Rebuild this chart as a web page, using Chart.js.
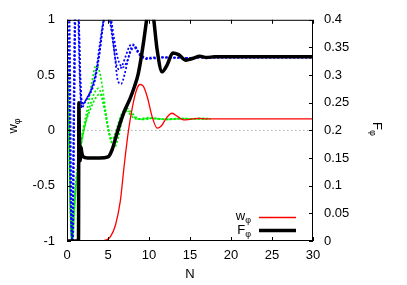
<!DOCTYPE html>
<html>
<head>
<meta charset="utf-8">
<script src="https://cdn.jsdelivr.net/npm/chart.js@4.4.1/dist/chart.umd.min.js"></script>
<style>html,body{margin:0;padding:0;background:#fff}</style>
</head>
<body>
<canvas id="c" width="407" height="285"></canvas>
<script>
// tick values
const xTicks = [0, 5, 10, 15, 20, 25, 30];
const wTicks = [-1, -0.5, 0, 0.5, 1];
const fTicks = [0, 0.05, 0.1, 0.15, 0.2, 0.25, 0.3, 0.35, 0.4];

// w_phi (red, left axis)
const nW = [0, 4, 4.8, 5.3, 5.9, 6.5, 7, 7.5, 8, 8.5, 8.9, 9.3, 9.8, 10.4, 11, 11.5, 12.2, 12.8, 13.5, 14.2, 15, 16, 17, 20, 30];
const wPhi = [-1, -1, -0.99, -0.96, -0.86, -0.64, -0.3, 0.0, 0.22, 0.37, 0.415, 0.4, 0.3, 0.12, 0.02, 0.04, 0.12, 0.155, 0.125, 0.095, 0.1, 0.108, 0.104, 0.105, 0.105];

// F_phi (black, right axis)
const nF = [0, 1.4, 1.45, 1.5, 1.6, 1.7, 1.8, 2.0, 2.5, 3, 4, 5, 5.5, 6, 6.5, 7, 7.7, 8.2, 8.7, 9.3, 9.8, 10.1, 10.5, 11, 11.6, 12.2, 12.9, 13.6, 14.5, 15.3, 16.2, 17, 18, 20, 25, 30];
const fPhi = [0, 0, 0.25, 0.2, 0.145, 0.17, 0.16, 0.152, 0.15, 0.15, 0.15, 0.152, 0.165, 0.19, 0.214, 0.235, 0.258, 0.278, 0.303, 0.356, 0.41, 0.44, 0.41, 0.345, 0.306, 0.318, 0.34, 0.337, 0.327, 0.33, 0.334, 0.332, 0.333, 0.333, 0.333, 0.333];

// blue dotted curves
const nB1 = [0, 0.15, 0.4, 0.6, 0.8, 0.95, 1.15, 1.35, 1.5, 1.65, 1.85, 2.0, 2.5, 3.0, 3.5, 4.0, 4.4, 4.8, 5.2, 5.6, 6.0, 6.4, 6.8, 7.2, 7.6, 8.0, 8.5, 9.0, 9.6, 10.4, 11.5, 13, 15, 20, 30];
const wB1 = [1.0, 1.1, -0.3, -1.0, 0.2, 1.1, 1.3, 1.1, 0.6, 0.3, 0.22, 0.24, 0.3, 0.38, 0.52, 0.78, 0.98, 1.08, 1.0, 0.8, 0.6, 0.55, 0.6, 0.68, 0.76, 0.78, 0.72, 0.67, 0.65, 0.66, 0.66, 0.655, 0.655, 0.655, 0.655];
const nB2 = [0, 0.3, 0.5, 0.65, 0.85, 1.0, 1.2, 1.4, 1.55, 1.75, 2.0, 2.5, 3.0, 3.5, 4.0, 4.5, 5.0, 5.4, 5.8, 6.2, 6.6, 7.0, 7.4, 7.8, 8.2, 8.7, 9.2, 9.8, 10.5, 12, 15];
const wB2 = [1.05, 1.0, -0.4, -1.0, 0.0, 1.05, 1.2, 1.15, 0.7, 0.3, 0.24, 0.3, 0.37, 0.5, 0.72, 1.0, 1.1, 0.95, 0.7, 0.45, 0.42, 0.5, 0.63, 0.74, 0.77, 0.71, 0.66, 0.645, 0.655, 0.66, 0.655];
const nB3 = [0, 0.2, 0.45, 0.7, 0.9, 1.05, 1.25, 1.45, 1.6, 1.8, 2.2, 2.8, 3.4, 3.9, 4.3, 4.7, 5.2, 5.7, 6.2, 6.8, 7.3, 7.8, 8.3, 8.8, 9.5, 10.5, 12, 15];
const wB3 = [0.95, 0.6, -0.7, -1.0, 0.3, 1.1, 1.2, 1.0, 0.5, 0.2, 0.26, 0.33, 0.45, 0.66, 0.9, 1.05, 1.05, 0.85, 0.65, 0.57, 0.62, 0.72, 0.75, 0.7, 0.66, 0.65, 0.66, 0.655];

// green dotted curves
const nG1 = [0, 0.2, 0.4, 0.6, 0.8, 1.1, 1.5, 2.0, 2.5, 3.0, 3.5, 3.9, 4.3, 4.7, 5.1, 5.5, 6.0, 6.5, 7.0, 7.5, 8.0, 8.6, 9.3, 10, 11, 12, 13, 14, 15, 16.5, 17.5];
const wG1 = [0.75, 0.1, -0.7, -1.0, -0.75, -0.45, -0.2, 0.02, 0.2, 0.42, 0.58, 0.55, 0.4, 0.18, 0.0, -0.08, 0.0, 0.12, 0.18, 0.16, 0.12, 0.1, 0.11, 0.115, 0.105, 0.1, 0.105, 0.108, 0.104, 0.11, 0.105];
const nG2 = [0, 0.25, 0.45, 0.65, 0.9, 1.3, 1.8, 2.3, 2.8, 3.3, 3.8, 4.3, 4.8, 5.2, 5.6, 6.1, 6.6, 7.1, 7.6, 8.2, 9, 10, 11, 12.5, 14, 16, 17.5];
const wG2 = [0.6, -0.1, -0.8, -1.0, -0.7, -0.35, -0.1, 0.08, 0.22, 0.33, 0.38, 0.3, 0.1, -0.05, -0.12, -0.05, 0.1, 0.19, 0.17, 0.12, 0.1, 0.11, 0.105, 0.1, 0.106, 0.105, 0.105];
const nG3 = [0, 0.3, 0.5, 0.7, 1.0, 1.4, 1.9, 2.4, 2.9, 3.4, 4.0, 4.5, 5.0, 5.4, 5.8, 6.3, 6.8, 7.3, 7.9, 8.6, 9.5, 10.5, 12, 14, 17];
const wG3 = [0.4, -0.3, -0.9, -1.0, -0.6, -0.3, -0.05, 0.1, 0.2, 0.28, 0.33, 0.22, 0.02, -0.1, -0.15, -0.05, 0.12, 0.2, 0.16, 0.11, 0.1, 0.11, 0.1, 0.105, 0.105];

// zero reference line
const nZero = [0, 30];
const wZero = [0, 0];

const FONT = '"Liberation Sans", Arial, sans-serif';

function pts(xs, ys) {
    return xs.map((x, i) => ({ x: x, y: ys[i] }));
}

function dotted(xs, ys, color) {
    return {
        data: pts(xs, ys),
        borderColor: color,
        borderWidth: 1.7,
        borderDash: [2, 2],
        yAxisID: 'y'
    };
}

// text with a subscript, drawn in the current (possibly rotated) frame
function subText(ctx, main, sub, x, y, align) {
    ctx.font = '13px ' + FONT;
    const mw = ctx.measureText(main).width;
    ctx.font = '9px ' + FONT;
    const sw = ctx.measureText(sub).width;
    let x0 = x;
    if (align === 'right') x0 = x - mw - sw;
    if (align === 'center') x0 = x - (mw + sw) / 2;
    ctx.textAlign = 'left';
    ctx.textBaseline = 'alphabetic';
    ctx.font = '13px ' + FONT;
    ctx.fillText(main, x0, y);
    ctx.font = '9px ' + FONT;
    ctx.fillText(sub, x0 + mw, y + 3);
}

const framePlugin = {
    id: 'frame',
    afterDraw(chart) {
        const { ctx, chartArea: a, scales } = chart;
        ctx.save();
        ctx.strokeStyle = '#000';
        ctx.lineWidth = 1;
        ctx.beginPath();
        xTicks.forEach(v => {
            const p = Math.round(scales.x.getPixelForValue(v)) + 0.5;
            ctx.moveTo(p, a.bottom); ctx.lineTo(p, a.bottom - 4);
            ctx.moveTo(p, a.top); ctx.lineTo(p, a.top + 4);
        });
        wTicks.forEach(v => {
            const p = Math.round(scales.y.getPixelForValue(v)) + 0.5;
            ctx.moveTo(a.left, p); ctx.lineTo(a.left + 4, p);
        });
        fTicks.forEach(v => {
            const p = Math.round(scales.y2.getPixelForValue(v)) + 0.5;
            ctx.moveTo(a.right, p); ctx.lineTo(a.right - 4, p);
        });
        ctx.stroke();
        ctx.strokeRect(a.left + 0.5, a.top + 0.5, a.right - a.left - 1, a.bottom - a.top - 1);

        ctx.fillStyle = '#000';
        // left axis title
        ctx.save();
        ctx.translate(17, 126);
        ctx.rotate(-Math.PI / 2);
        subText(ctx, 'w', 'φ', 0, 0, 'center');
        ctx.restore();
        // right axis title
        ctx.save();
        ctx.translate(373, 129);
        ctx.rotate(Math.PI / 2);
        subText(ctx, 'F', 'φ', 0, 0, 'center');
        ctx.restore();

        // key
        subText(ctx, 'w', 'φ', 251, 220, 'right');
        subText(ctx, 'F', 'φ', 251, 234, 'right');
        ctx.lineCap = 'butt';
        ctx.strokeStyle = '#ff0000';
        ctx.lineWidth = 1.3;
        ctx.beginPath(); ctx.moveTo(259, 217.5); ctx.lineTo(296, 217.5); ctx.stroke();
        ctx.strokeStyle = '#000';
        ctx.lineWidth = 3.5;
        ctx.beginPath(); ctx.moveTo(259, 230.5); ctx.lineTo(296, 230.5); ctx.stroke();
        ctx.restore();
    }
};

Chart.defaults.font.family = FONT;
Chart.defaults.font.size = 13;
Chart.defaults.color = '#000';

new Chart(document.getElementById('c'), {
    type: 'line',
    data: {
        datasets: [
            {
                data: pts(nF, fPhi),
                borderColor: '#000',
                borderWidth: 3.5,
                yAxisID: 'y2'
            },
            {
                data: pts(nW, wPhi),
                borderColor: '#ff0000',
                borderWidth: 1.3,
                yAxisID: 'y'
            },
            dotted(nB1, wB1, '#0000ff'),
            dotted(nB2, wB2, '#0000ff'),
            dotted(nB3, wB3, '#0000ff'),
            dotted(nG1, wG1, '#00ee00'),
            dotted(nG2, wG2, '#00ee00'),
            dotted(nG3, wG3, '#00ee00'),
            {
                data: pts(nZero, wZero),
                borderColor: '#b0b0b0',
                borderWidth: 1,
                borderDash: [1.5, 2.5],
                yAxisID: 'y'
            }
        ]
    },
    options: {
        responsive: false,
        animation: false,
        layout: { padding: { top: 15, left: 0, right: 0, bottom: 0 } },
        elements: {
            point: { radius: 0 },
            line: { cubicInterpolationMode: 'monotone', fill: false }
        },
        scales: {
            x: {
                type: 'linear',
                min: 0,
                max: 30,
                grid: { display: false, drawTicks: false },
                border: { display: false },
                afterBuildTicks: s => { s.ticks = xTicks.map(v => ({ value: v })); },
                afterFit: s => { s.height = 44; },
                ticks: { padding: 7, maxRotation: 0, callback: v => String(v) },
                title: { display: true, text: 'N', padding: { top: 0, bottom: 3 } }
            },
            y: {
                position: 'left',
                min: -1,
                max: 1,
                grid: { display: false, drawTicks: false },
                border: { display: false },
                afterBuildTicks: s => { s.ticks = wTicks.map(v => ({ value: v })); },
                afterFit: s => { s.width = 67; },
                ticks: { padding: 12, callback: v => String(v) }
            },
            y2: {
                position: 'right',
                min: 0,
                max: 0.4,
                grid: { display: false, drawTicks: false },
                border: { display: false },
                afterBuildTicks: s => { s.ticks = fTicks.map(v => ({ value: v })); },
                afterFit: s => { s.width = 94; },
                ticks: { padding: 11, callback: v => String(v) }
            }
        },
        plugins: {
            legend: { display: false },
            tooltip: { enabled: false }
        }
    },
    plugins: [framePlugin]
});
</script>
</body>
</html>
